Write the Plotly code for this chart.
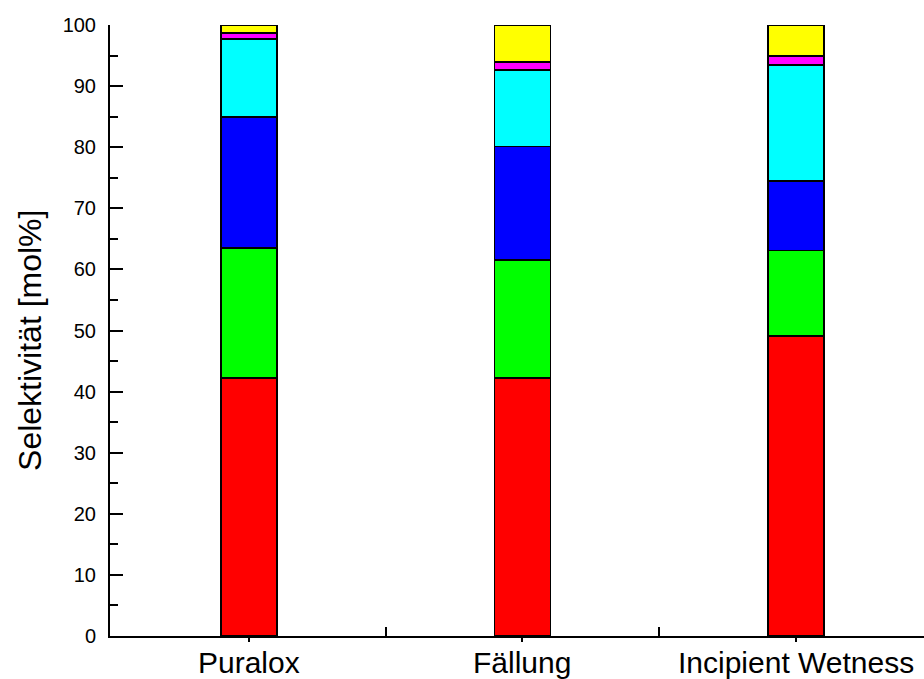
import plotly.graph_objects as go

categories = ["Puralox", "Fällung", "Incipient Wetness"]
red_vals = [42.2, 42.2, 49.1]
green_vals = [21.3, 19.4, 14.0]
blue_vals = [21.4, 18.5, 11.4]
cyan_vals = [12.8, 12.5, 19.0]
magenta_vals = [1.0, 1.3, 1.4]
yellow_vals = [1.3, 6.1, 5.1]
y_title = "Selektivität [mol%]"

series = [
    ("rot", red_vals, "#FF0000"),
    ("grün", green_vals, "#00FF00"),
    ("blau", blue_vals, "#0000FF"),
    ("cyan", cyan_vals, "#00FFFF"),
    ("magenta", magenta_vals, "#FF00FF"),
    ("gelb", yellow_vals, "#FFFF00"),
]

xpos = list(range(len(categories)))

fig = go.Figure()
for name, vals, col in series:
    fig.add_trace(go.Bar(
        x=xpos, y=vals, name=name, width=0.205,
        marker=dict(color=col, line=dict(color="black", width=1.8)),
        showlegend=False,
    ))

font_family = "Liberation Sans, Arial, sans-serif"

fig.update_layout(
    barmode="stack",
    width=924, height=679,
    margin=dict(l=110, r=0, t=25, b=43),
    plot_bgcolor="white", paper_bgcolor="white",
    font=dict(family=font_family, color="black"),
)

fig.update_xaxes(
    range=[-0.508, 2.468],
    tickmode="array", tickvals=xpos, ticktext=categories,
    showticklabels=False,
    ticks="outside", ticklen=4, tickwidth=2, tickcolor="black",
    automargin=False,
    showline=True, linecolor="black", linewidth=2,
    showgrid=False, zeroline=False,
    minor=dict(tickmode="array", tickvals=[0.5, 1.5], ticks="inside",
               ticklen=9, tickwidth=2, tickcolor="black", showgrid=False),
)

# category labels placed as annotations so they sit like the reference
for xi, cat in zip(xpos, categories):
    fig.add_annotation(
        text=cat, showarrow=False, xref="x", yref="paper", x=xi, y=0,
        xanchor="center", yanchor="top", yshift=-8,
        font=dict(size=30, family=font_family, color="black"),
    )

fig.update_yaxes(
    range=[0, 100],
    tickmode="linear", tick0=0, dtick=10,
    ticks="inside", ticklen=13, tickwidth=2, tickcolor="black",
    tickfont=dict(size=20, family=font_family, color="black"),
    ticklabelstandoff=8,
    automargin=False,
    showline=True, linecolor="black", linewidth=2,
    showgrid=False, zeroline=False,
    minor=dict(dtick=5, ticks="inside", ticklen=8, tickwidth=2,
               tickcolor="black", showgrid=False),
)

fig.add_annotation(
    text=y_title, textangle=-90, showarrow=False,
    xref="paper", yref="paper", x=-0.0983, y=0.4845,
    xanchor="center", yanchor="middle",
    font=dict(size=32, family=font_family, color="black"),
)

fig.write_html("out.html")
